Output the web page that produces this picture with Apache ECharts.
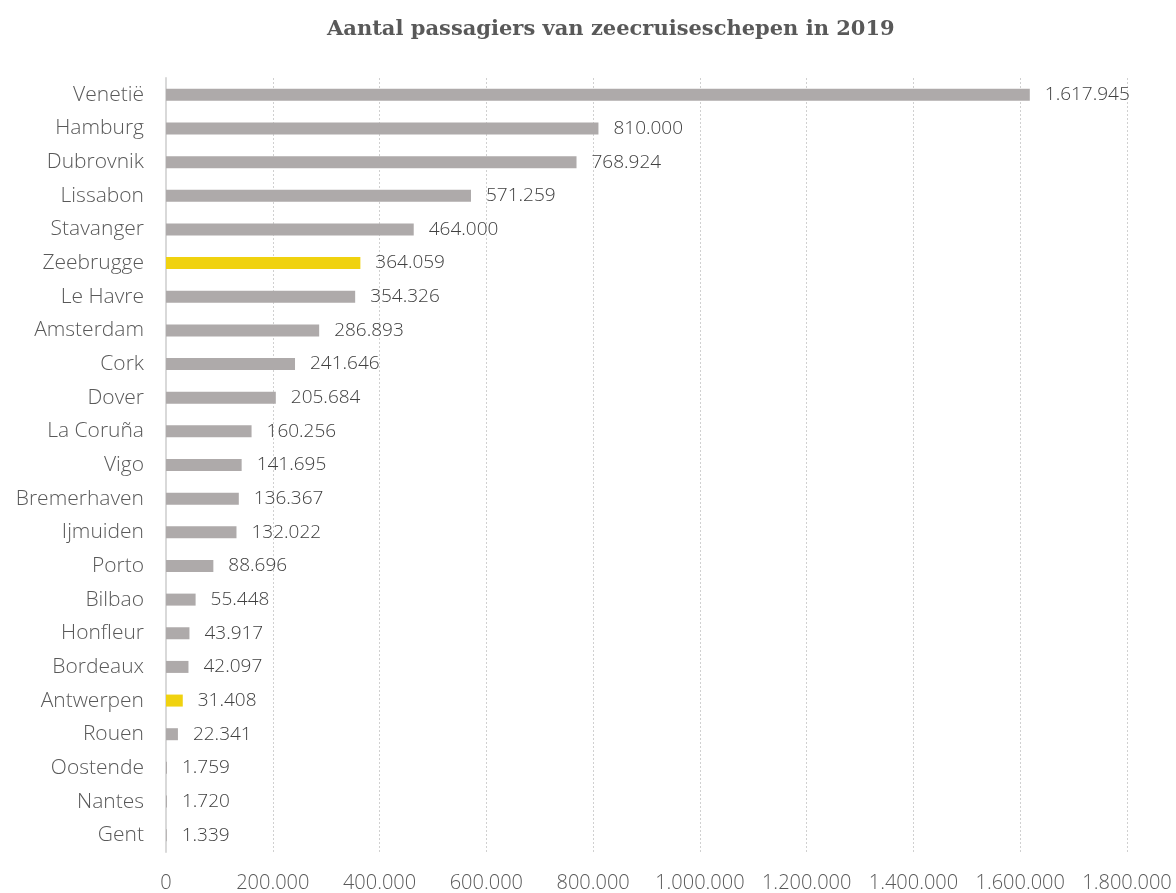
<!DOCTYPE html>
<html>
<head>
<meta charset="utf-8">
<script src="https://cdn.jsdelivr.net/npm/echarts@6/dist/echarts.min.js"></script>
<style>
html,body{margin:0;padding:0;background:#fff;}
#chart{width:1176px;height:893px;}
</style>
</head>
<body>
<div id="chart"></div>
<script>
const categories = ["Venetië","Hamburg","Dubrovnik","Lissabon","Stavanger","Zeebrugge","Le Havre","Amsterdam","Cork","Dover","La Coruña","Vigo","Bremerhaven","Ijmuiden","Porto","Bilbao","Honfleur","Bordeaux","Antwerpen","Rouen","Oostende","Nantes","Gent"];
const passengers = [1617945,810000,768924,571259,464000,364059,354326,286893,241646,205684,160256,141695,136367,132022,88696,55448,43917,42097,31408,22341,1759,1720,1339];
const highlighted = ["Zeebrugge","Antwerpen"];
const titleText = "Aantal passagiers van zeecruiseschepen in 2019";

function fmt(v){ return String(Math.round(v)).replace(/\B(?=(\d{3})+(?!\d))/g, "."); }

const GREY = "#aeaaaa", YELLOW = "#f0d20f";
const chart = echarts.init(document.getElementById('chart'));
chart.setOption({
  backgroundColor: "#fff",
  animation: false,
  title: {
    text: titleText, left: 322, top: 14,
    textStyle: {fontFamily: "DejaVu Serif", fontWeight: "bold", fontSize: 21, color: "#595959"}
  },
  grid: {left: 166, right: 49, top: 78, bottom: 40, containLabel: false},
  xAxis: {
    type: "value", min: 0, max: 1800000, interval: 200000,
    axisLine: {show: false}, axisTick: {show: false},
    splitLine: {show: true, lineStyle: {type: [2,2], color: "#d0d0d0", width: 1}},
    axisLabel: {formatter: fmt, fontFamily: "Open Sans", fontWeight: 300, fontSize: 20, color: "#595959", margin: 21}
  },
  yAxis: {
    type: "category", data: categories, inverse: true,
    axisLine: {show: true, lineStyle: {color: "#d9d9d9", width: 2}},
    axisTick: {show: false},
    axisLabel: {fontFamily: "Open Sans", fontWeight: 300, fontSize: 21, color: "#595959", margin: 22}
  },
  series: [{
    type: "bar",
    data: passengers.map((v,i) => ({value: v, itemStyle: {color: highlighted.includes(categories[i]) ? YELLOW : GREY}})),
    barWidth: 12,
    label: {show: true, position: "right", distance: 15, formatter: p => fmt(p.value),
      fontFamily: "Open Sans", fontWeight: 300, fontSize: 19, color: "#404040"}
  }]
});
</script>
</body>
</html>
